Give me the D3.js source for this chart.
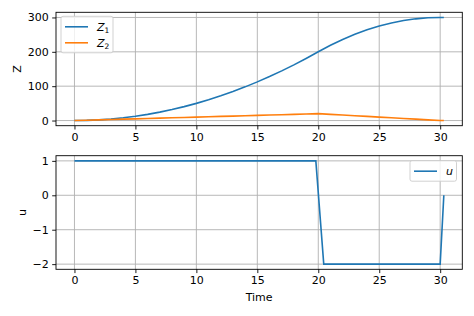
<!DOCTYPE html>
<html>
<head>
<meta charset="utf-8">
<script src="https://cdn.jsdelivr.net/npm/d3@7"></script>
<style>
  body { margin: 0; background: #fff; }
  svg { display: block; font-family: "DejaVu Sans", sans-serif; }
</style>
</head>
<body>
<script>
// data
var time = [0,1,2,3,4,5,6,7,8,9,10,11,12,13,14,15,16,17,18,19,20,21,22,23,24,25,26,27,28,29,30,30.3];
var z1 = [0,0.5,2,4.5,8,12.5,18,24.5,32,40.5,50,60.5,72,84.5,98,112.5,128,144.5,162,180.5,200,219,236,251,264,275,284,291,296,299,300,300];
var z2 = [0,1,2,3,4,5,6,7,8,9,10,11,12,13,14,15,16,17,18,19,20,18,16,14,12,10,8,6,4,2,0,0];
var uTime = [0, 19.8, 20.45, 30.0, 30.3];
var uVal = [1, 1, -2, -2, 0];
var xTicks = [0,5,10,15,20,25,30];
var zTicks = [0,100,200,300];
var uTicks = [-2,-1,0,1];

var W = 474, H = 316;
var left = 56, right = 462.3;

var svg = d3.select("body").append("svg")
  .attr("width", W)
  .attr("height", H);

// 5% margins like matplotlib
function pad(ext) {
  var d = (ext[1] - ext[0]) * 0.05;
  return [ext[0] - d, ext[1] + d];
}

var xscale = d3.scaleLinear()
  .domain(pad(d3.extent(time)))
  .range([left, right]);

var zscale = d3.scaleLinear()
  .domain(pad([d3.min(z1.concat(z2)), d3.max(z1.concat(z2))]))
  .range([125.7, 12.3]);

var uscale = d3.scaleLinear()
  .domain(pad(d3.extent(uVal)))
  .range([269.3, 155.7]);

function panel(yscale, yTicks, top, bottom, ylabel, labelX) {
  var g = svg.append("g");
  // grid
  g.selectAll(".gx").data(xTicks).enter().append("line")
    .attr("x1", d => xscale(d)).attr("x2", d => xscale(d))
    .attr("y1", top).attr("y2", bottom)
    .attr("stroke", "#b0b0b0").attr("stroke-width", 0.9);
  g.selectAll(".gy").data(yTicks).enter().append("line")
    .attr("x1", left).attr("x2", right)
    .attr("y1", d => yscale(d)).attr("y2", d => yscale(d))
    .attr("stroke", "#b0b0b0").attr("stroke-width", 0.9);

  var xa = g.append("g")
    .attr("transform", "translate(0," + bottom + ")")
    .call(d3.axisBottom(xscale).tickValues(xTicks).tickFormat(d3.format("d"))
      .tickSize(3.8).tickPadding(3.5).tickSizeOuter(0));
  var ya = g.append("g")
    .attr("transform", "translate(" + left + ",0)")
    .call(d3.axisLeft(yscale).tickValues(yTicks).tickFormat(d3.format("d"))
      .tickSize(3.8).tickPadding(3.5).tickSizeOuter(0));
  [xa, ya].forEach(function (a) {
    a.select(".domain").remove();
    a.selectAll("text").attr("font-size", 11).attr("fill", "#000")
      .attr("font-family", "DejaVu Sans, sans-serif");
    a.selectAll("line").attr("stroke", "#000").attr("stroke-width", 0.9);
  });

  g.append("text")
    .text(ylabel)
    .attr("font-size", 11)
    .attr("text-anchor", "middle")
    .attr("transform", "translate(" + labelX + "," + ((top + bottom) / 2) + ") rotate(-90)");
  return g;
}

function frame(top, bottom) {
  svg.append("rect")
    .attr("x", left).attr("y", top)
    .attr("width", right - left).attr("height", bottom - top)
    .attr("fill", "none").attr("stroke", "#000").attr("stroke-width", 0.9);
}

var line = function (ys, yscale, xs) {
  return d3.line()
    .x((d, i) => xscale(xs[i]))
    .y(d => yscale(d))(ys);
};

// top panel
panel(zscale, zTicks, 12.3, 125.7, "Z", 20.5);
svg.append("path").attr("d", line(z1, zscale, time))
  .attr("fill", "none").attr("stroke", "#1f77b4").attr("stroke-width", 1.6);
svg.append("path").attr("d", line(z2, zscale, time))
  .attr("fill", "none").attr("stroke", "#ff7f0e").attr("stroke-width", 1.6);
frame(12.3, 125.7);

// bottom panel
panel(uscale, uTicks, 155.7, 269.3, "u", 26);
svg.append("path").attr("d", line(uVal, uscale, uTime))
  .attr("fill", "none").attr("stroke", "#1f77b4").attr("stroke-width", 1.6);
frame(155.7, 269.3);

svg.append("text").text("Time")
  .attr("x", (left + right) / 2).attr("y", 301)
  .attr("font-size", 11).attr("text-anchor", "middle");

// legends
function legend(x, y, w, h, items) {
  var g = svg.append("g").attr("transform", "translate(" + x + "," + y + ")");
  g.append("rect").attr("width", w).attr("height", h).attr("rx", 2)
    .attr("fill", "#fff").attr("fill-opacity", 0.8)
    .attr("stroke", "#cccccc").attr("stroke-width", 0.9);
  items.forEach(function (it, i) {
    var yy = 10.5 + i * 16;
    g.append("line").attr("x1", 4).attr("x2", 27).attr("y1", yy).attr("y2", yy)
      .attr("stroke", it.color).attr("stroke-width", 1.6);
    var t = g.append("text").attr("x", 36).attr("y", yy + 4)
      .attr("font-size", 11).attr("font-style", "italic");
    t.append("tspan").text(it.name);
    if (it.sub) {
      t.append("tspan").text(it.sub).attr("font-style", "normal")
        .attr("font-size", 7.5).attr("dy", 2.5);
    }
  });
}

legend(61, 16.3, 52, 36.5, [
  {name: "Z", sub: "1", color: "#1f77b4"},
  {name: "Z", sub: "2", color: "#ff7f0e"}
]);
legend(410, 160.7, 46.5, 20.5, [
  {name: "u", color: "#1f77b4"}
]);
</script>
</body>
</html>
